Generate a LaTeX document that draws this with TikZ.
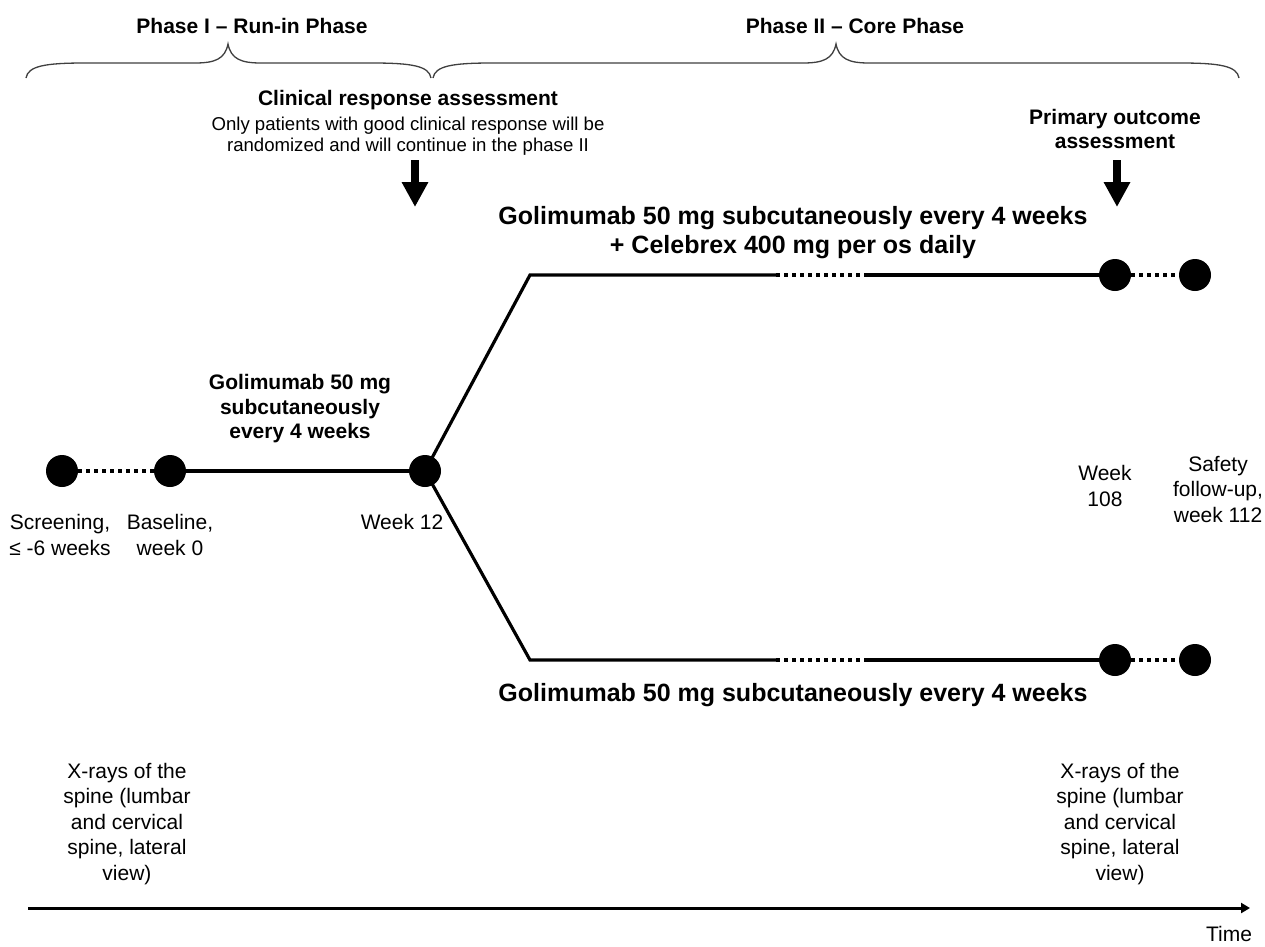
\documentclass[tikz,border=0pt]{standalone}
\usepackage{fontspec}
\setmainfont{Liberation Sans}
\usetikzlibrary{arrows.meta}
\begin{document}
\begin{tikzpicture}[x=1pt,y=-1pt,
  dot/.style={circle,fill=black,minimum size=32pt,inner sep=0pt},
  solidline/.style={line width=3.2pt},
  dotline/.style={line width=3.2pt,dash pattern=on 4pt off 4pt},
  brc/.style={line width=1.3pt,draw=black!75},
  reg/.style={font=\fontsize{21}{25.5}\selectfont,align=center,inner sep=0pt},
  small/.style={font=\fontsize{18.6}{21}\selectfont,align=center,inner sep=0pt},
  hb/.style={font=\fontsize{21}{24.5}\selectfont\bfseries,align=center,inner sep=0pt},
  big/.style={font=\fontsize{25}{29}\selectfont\bfseries,align=center,inner sep=0pt},
  bigarrow/.style={line width=8pt,-{Triangle[width=25pt,length=25pt]}},
  timearrow/.style={line width=3pt,-{Triangle[width=10pt,length=9pt]}}]
\useasboundingbox[fill=white] (0,0) rectangle (1265,946);

% braces
\draw[brc] (26,78) .. controls (28,66) and (45,63) .. (85,63) -- (195,63)
  .. controls (215,63) and (225,59) .. (228,44)
  .. controls (231,59) and (241,63) .. (261,63) -- (372,63)
  .. controls (412,63) and (429,66) .. (431,78);
\draw[brc] (433,78) .. controls (435,66) and (452,63) .. (492,63) -- (803,63)
  .. controls (823,63) and (833,59) .. (836,44)
  .. controls (839,59) and (849,63) .. (869,63) -- (1180,63)
  .. controls (1220,63) and (1237,66) .. (1239,78);

\node[hb] (ph1) at (252,26) {Phase I – Run-in Phase};
\node[hb] (ph2) at (855,26) {Phase II – Core Phase};

\node[hb] (cra) at (408,100) {Clinical response assessment};
\node[small] (crb) at (408,136) {Only patients with good clinical response will be\\randomized and will continue in the phase II};
\node[hb] (poa) at (1115,129) {Primary outcome\\assessment};

\coordinate (a1s) at (415,160);
\coordinate (a1e) at (415,207);
\coordinate (a2s) at (1117,160);
\coordinate (a2e) at (1117,207);
\draw[bigarrow] (a1s) -- (a1e);
\draw[bigarrow] (a2s) -- (a2e);

\node[big] (drug1) at (793,233) {Golimumab 50 mg subcutaneously every 4 weeks\\+ Celebrex 400 mg per os daily};
\node[big] (drug2) at (793,695) {Golimumab 50 mg subcutaneously every 4 weeks};
\node[hb] (drug0) at (300,409) {Golimumab 50 mg\\subcutaneously\\every 4 weeks};

% dots
\node[dot] (scr) at (62,471) {};
\node[dot] (bas) at (170,471) {};
\node[dot] (w12) at (425,471) {};
\node[dot] (w108t) at (1115,275) {};
\node[dot] (saft) at (1195,275) {};
\node[dot] (w108b) at (1115,660) {};
\node[dot] (safb) at (1195,660) {};

\coordinate (tc) at (530,275);
\coordinate (td1) at (776,275);
\coordinate (td2) at (866,275);
\coordinate (bc) at (530,660);
\coordinate (bd1) at (776,660);
\coordinate (bd2) at (866,660);

\draw[dotline] (scr) -- (bas);
\draw[solidline] (bas) -- (w12);
\draw[solidline] (w12.center) -- (tc) -- (td1);
\draw[dotline] (td1) -- (td2);
\draw[solidline] (td2) -- (w108t);
\draw[dotline] (w108t) -- (saft);
\draw[solidline] (w12.center) -- (bc) -- (bd1);
\draw[dotline] (bd1) -- (bd2);
\draw[solidline] (bd2) -- (w108b);
\draw[dotline] (w108b) -- (safb);

% labels
\node[reg] (lscr) at (60,535) {Screening,\\≤ -6 weeks};
\node[reg] (lbas) at (170,535) {Baseline,\\week 0};
\node[reg] (lw12) at (402,522) {Week 12};
\node[reg] (lw108) at (1105,486) {Week\\108};
\node[reg] (lsaf) at (1218,489) {Safety\\follow-up,\\week 112};

\node[reg] (xl) at (127,824) {X-rays of the\\spine (lumbar\\and cervical\\spine, lateral\\view)};
\node[reg] (xr) at (1120,824) {X-rays of the\\spine (lumbar\\and cervical\\spine, lateral\\view)};

\coordinate (t0) at (28,908);
\coordinate (t1) at (1250,908);
\draw[timearrow] (t0) -- (t1);
\node[reg] (time) at (1229,934) {Time};
\end{tikzpicture}
\end{document}
